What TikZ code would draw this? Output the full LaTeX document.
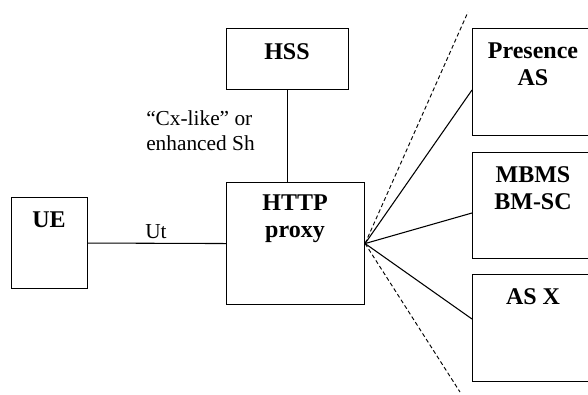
\documentclass[tikz,border=0pt]{standalone}
\usepackage{fontspec}
\setmainfont{Liberation Serif}
\begin{document}
\begin{tikzpicture}[x=0.75pt,y=-0.75pt,
  box/.style={draw,line width=0.8pt,inner sep=0pt,anchor=north west},
  btxt/.style={font=\fontsize{18}{20.25}\selectfont\bfseries,align=center,inner sep=0pt,anchor=north},
  rtxt/.style={font=\fontsize{16}{19}\selectfont,inner sep=0pt},
  conn/.style={line width=0.8pt},
  dashline/.style={line width=0.7pt,dash pattern=on 3pt off 2pt}]
\useasboundingbox (0,0) rectangle (588,394);
\clip (0,0) rectangle (588,394);
% boxes
\node[box,minimum width=76*0.75pt,minimum height=91*0.75pt] (ue) at (11,197) {};
\node[box,minimum width=122*0.75pt,minimum height=61*0.75pt] (hss) at (226,28) {};
\node[box,minimum width=138*0.75pt,minimum height=122*0.75pt] (proxy) at (226,182) {};
\node[box,minimum width=124*0.75pt,minimum height=107*0.75pt] (pres) at (472,28) {};
\node[box,minimum width=124*0.75pt,minimum height=106*0.75pt] (mbms) at (472,152) {};
\node[box,minimum width=124*0.75pt,minimum height=107*0.75pt] (asx) at (472,274) {};
% texts
\node[btxt] (uet) at (49,212) {UE};
\node[btxt] (hsst) at (287,43) {HSS};
\node[btxt] (proxyt) at (295,195) {HTTP\\proxy};
\node[btxt] (prest) at (533,43) {Presence\\AS};
\node[btxt] (mbmst) at (533,166) {MBMS\\BM-SC};
\node[btxt] (asxt) at (533,288) {AS X};
\node[rtxt,anchor=base] (ut) at (156,238) {Ut};
\node[rtxt,anchor=base west] (cx1) at (146,125) {``Cx-like'' or};
\node[rtxt,anchor=base west] (cx2) at (146,150) {enhanced Sh};
% connector end points
\coordinate (p1) at (472,90);
\coordinate (p2) at (472,213);
\coordinate (p3) at (472,319);
\coordinate (d1) at (468,12);
\coordinate (d2) at (460,392);
% connectors
\draw[conn] (ue.east) -- (proxy.west);
\draw[conn] (hss.south) -- (hss.south |- proxy.north);
\draw[conn] (proxy.east) -- (p1);
\draw[conn] (proxy.east) -- (p2);
\draw[conn] (proxy.east) -- (p3);
\draw[dashline] (proxy.east) -- (d1);
\draw[dashline] (proxy.east) -- (d2);
\end{tikzpicture}
\end{document}
